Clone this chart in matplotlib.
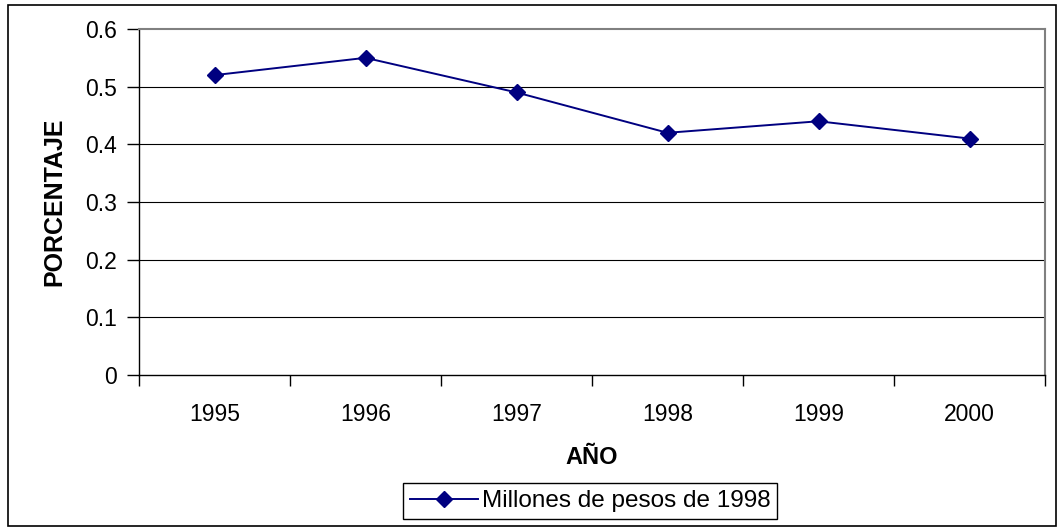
import matplotlib
matplotlib.use("Agg")
import matplotlib.pyplot as plt
import numpy as np

plt.rcParams['font.family'] = ['Liberation Sans', 'DejaVu Sans']

years = ['1995', '1996', '1997', '1998', '1999', '2000']
values = [0.52, 0.55, 0.49, 0.42, 0.44, 0.41]
series_label = 'Millones de pesos de 1998'
y_ticks = [0, 0.1, 0.2, 0.3, 0.4, 0.5, 0.6]

W, H = 1057, 527
fig = plt.figure(figsize=(W / 100, H / 100), dpi=100)
ax = fig.add_axes([139 / W, 1 - 375 / H, (1045 - 139) / W, (375 - 29) / H])

x = np.arange(len(years))
ax.plot(x, values, color='#000080', linewidth=1.4, marker='D', markersize=8.5,
        label=series_label, zorder=3)

ax.set_xlim(-0.5, len(years) - 0.5)
ax.set_ylim(0, 0.6)
ax.set_yticks(y_ticks)
ax.set_yticklabels(['0', '0.1', '0.2', '0.3', '0.4', '0.5', '0.6'], fontsize=16.5)
ax.set_xticks(np.arange(len(years) + 1) - 0.5)
ax.set_xticklabels([])
ax.set_xticks(x, minor=True)
ax.set_xticklabels(years, minor=True, fontsize=16.5)
ax.tick_params(axis='x', which='minor', length=0, pad=20)
ax.tick_params(axis='x', which='major', length=8, width=1, direction='out')
ax.tick_params(axis='y', length=9, width=1, direction='out', pad=7)

for v in y_ticks[1:-1]:
    ax.axhline(v, color='black', linewidth=0.8, zorder=1)

for side in ['top', 'right']:
    ax.spines[side].set_color('#808080')
    ax.spines[side].set_linewidth(1.5)
for side in ['left', 'bottom']:
    ax.spines[side].set_color('black')
    ax.spines[side].set_linewidth(1)

ax.set_ylabel('PORCENTAJE', fontsize=18, fontweight='bold')
ax.yaxis.set_label_coords(-(139 - 54) / (1045 - 139), 0.5)
ax.yaxis.label.set_va('center')
ax.set_xlabel('AÑO', fontsize=17, fontweight='bold')
ax.xaxis.set_label_coords(0.5, -(458 - 375) / (375 - 29))
ax.xaxis.label.set_va('center')

leg = fig.legend(loc='center', bbox_to_anchor=(590 / W, 1 - 501 / H), fontsize=17.5,
                 frameon=True, fancybox=False, edgecolor='black', framealpha=1,
                 handlelength=2.8, borderpad=0.3, handletextpad=0.15,
                 borderaxespad=0)
leg.get_frame().set_linewidth(1)

fig.patches.append(plt.Rectangle((8 / W, 1 / H), (W - 9) / W, (H - 6) / H,
                                 transform=fig.transFigure, fill=False,
                                 edgecolor='black', linewidth=1.2))

fig.savefig('out.png', dpi=100)
